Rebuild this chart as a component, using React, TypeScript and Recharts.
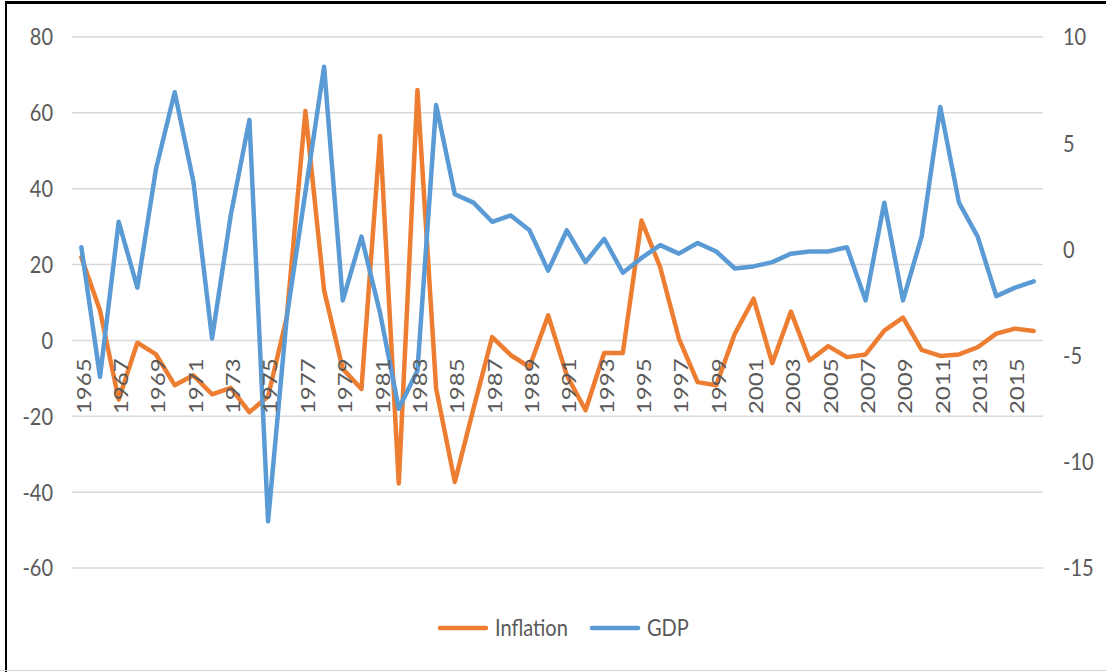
import React from 'react';
import { LineChart, Line, XAxis, YAxis, CartesianGrid, Legend } from 'recharts';

const years = [
  '1965', '1966', '1967', '1968', '1969', '1970', '1971', '1972', '1973', '1974',
  '1975', '1976', '1977', '1978', '1979', '1980', '1981', '1982', '1983', '1984',
  '1985', '1986', '1987', '1988', '1989', '1990', '1991', '1992', '1993', '1994',
  '1995', '1996', '1997', '1998', '1999', '2000', '2001', '2002', '2003', '2004',
  '2005', '2006', '2007', '2008', '2009', '2010', '2011', '2012', '2013', '2014',
  '2015', '2016',
];

const inflation = [
  21.9, 7.9, -15.6, -0.6, -3.7, -11.8, -9.2, -14.2, -12.5, -18.9,
  -14.8, 6.1, 60.5, 13.2, -7.5, -12.8, 53.9, -37.7, 66.0, -12.7,
  -37.3, -18.0, 0.9, -3.9, -7.0, 6.6, -9.2, -18.4, -3.3, -3.3,
  31.6, 19.3, 0.5, -11.0, -11.8, 1.8, 11.0, -6.0, 7.6, -5.3,
  -1.5, -4.4, -3.7, 2.6, 6.0, -2.5, -4.1, -3.7, -1.8, 1.8,
  3.1, 2.5,
];

const gdp = [
  0.1, -6.0, 1.3, -1.8, 3.8, 7.4, 3.2, -4.2, 1.6, 6.1,
  -12.8, -3.2, 2.7, 8.6, -2.4, 0.6, -3.0, -7.5, -5.7, 6.8,
  2.6, 2.2, 1.3, 1.6, 0.9, -1.0, 0.9, -0.6, 0.5, -1.1,
  -0.4, 0.2, -0.2, 0.3, -0.1, -0.9, -0.8, -0.6, -0.2, -0.1,
  -0.1, 0.1, -2.4, 2.2, -2.4, 0.6, 6.7, 2.2, 0.6, -2.2,
  -1.8, -1.5,
];

const seriesOrder = ['Inflation', 'GDP'];
const leftTicks = [-60, -40, -20, 0, 20, 40, 60, 80];
const rightTicks = [-15, -10, -5, 0, 5, 10];
const leftDomain = [-60, 80];
const rightDomain = [-15, 10];

const data = years.map((y, i) => ({ year: y, Inflation: inflation[i], GDP: gdp[i] }));

const W = 1106;
const H = 672;
const TOP = 37;
const PLOT_H = 531;
const FONT = 'Lato, "Open Sans", "Noto Sans", sans-serif';
const TXT = '#595959';
const SY = 1.18;

const zeroY = TOP + PLOT_H * (leftDomain[1] / (leftDomain[1] - leftDomain[0]));

const XTick = (props: any) => {
  const { x, payload } = props;
  return (
    <text
      transform={`translate(${x + 9.4}, ${zeroY + 18}) scale(1, 1.2) rotate(-90)`}
      textAnchor="end"
      fontSize={20}
      fontFamily={FONT}
      fill={TXT}
    >
      {payload.value}
    </text>
  );
};

const LeftTick = (props: any) => {
  const { y, payload } = props;
  return (
    <text
      transform={`translate(53, ${y}) scale(1, ${SY})`}
      y={7.2}
      textAnchor="end"
      fontSize={20}
      fontFamily={FONT}
      fill={TXT}
    >
      {payload.value}
    </text>
  );
};

const RightTick = (props: any) => {
  const { y, payload } = props;
  return (
    <text
      transform={`translate(1063, ${y}) scale(1, ${SY})`}
      y={7.2}
      textAnchor="start"
      fontSize={20}
      fontFamily={FONT}
      fill={TXT}
    >
      {payload.value}
    </text>
  );
};

const legendX = [438, 590];

const LegendContent = (props: any) => {
  const items = [...(props.payload || [])].sort(
    (a: any, b: any) => seriesOrder.indexOf(a.value) - seriesOrder.indexOf(b.value)
  );
  return (
    <svg width={W} height={40} style={{ display: 'block' }}>
      {items.map((p: any, i: number) => (
        <g key={p.value}>
          <line
            x1={legendX[i] + 2}
            x2={legendX[i] + 48}
            y1={20}
            y2={20}
            stroke={p.color}
            strokeWidth={4.5}
            strokeLinecap="round"
          />
          <text
            transform={`translate(${legendX[i] + 57}, 20) scale(1, ${SY})`}
            y={7.2}
            fontSize={20}
            fontFamily={FONT}
            fill={TXT}
          >
            {p.value}
          </text>
        </g>
      ))}
    </svg>
  );
};

export default function App() {
  return (
    <div style={{ position: 'absolute', left: 0, top: 0, width: W, height: H, background: '#fff', overflow: 'hidden' }}>
      <LineChart
        width={W}
        height={H}
        data={data}
        margin={{ top: TOP, right: 13, left: 12, bottom: 84 }}
      >
        <CartesianGrid yAxisId="left" vertical={false} stroke="#d9d9d9" strokeWidth={1.5} />
        <XAxis
          dataKey="year"
          scale="band"
          interval={1}
          height={20}
          axisLine={false}
          tickLine={false}
          tick={<XTick />}
        />
        <YAxis
          yAxisId="left"
          domain={leftDomain}
          ticks={leftTicks}
          width={60}
          axisLine={false}
          tickLine={false}
          tick={<LeftTick />}
          allowDataOverflow
        />
        <YAxis
          yAxisId="right"
          orientation="right"
          domain={rightDomain}
          ticks={rightTicks}
          width={50}
          axisLine={false}
          tickLine={false}
          tick={<RightTick />}
          allowDataOverflow
        />
        <Legend
          verticalAlign="middle"
          align="center"
          layout="horizontal"
          content={<LegendContent />}
          wrapperStyle={{ top: 608, left: 0, width: W, height: 40 }}
        />
        <Line
          yAxisId="left"
          type="linear"
          dataKey="Inflation"
          stroke="#ED7D31"
          strokeWidth={4.5}
          dot={false}
          strokeLinejoin="round"
          strokeLinecap="round"
          isAnimationActive={false}
        />
        <Line
          yAxisId="right"
          type="linear"
          dataKey="GDP"
          stroke="#5B9BD5"
          strokeWidth={4.5}
          dot={false}
          strokeLinejoin="round"
          strokeLinecap="round"
          isAnimationActive={false}
        />
      </LineChart>
      <div style={{ position: 'absolute', left: 5, top: 1, width: W - 5, height: 3, background: '#000' }} />
      <div style={{ position: 'absolute', left: 5, top: 1, width: 2, height: H - 1, background: '#000' }} />
      <div style={{ position: 'absolute', left: 0, top: 670, width: W, height: 1, background: '#d4d4d4' }} />
    </div>
  );
}
